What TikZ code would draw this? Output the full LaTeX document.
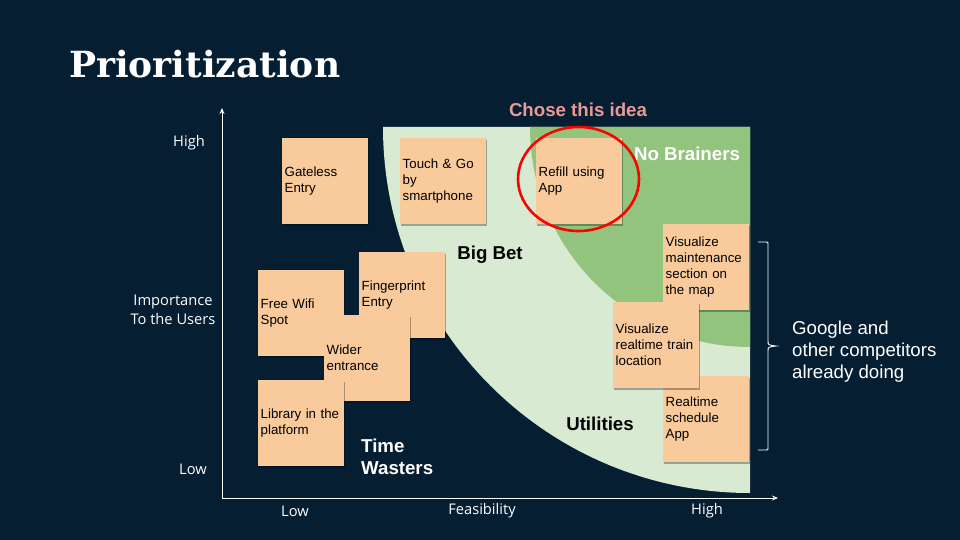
\documentclass[tikz,border=0pt]{standalone}
\usepackage{fontspec}
\setmainfont{Liberation Sans}
\newfontfamily\titlefont{DejaVu Serif}
\newfontfamily\axisfont{Open Sans}
\usetikzlibrary{arrows.meta,shadows}

\definecolor{navy}{HTML}{051E31}
\definecolor{peach}{HTML}{F9CB9C}
\definecolor{palegreen}{HTML}{D9EAD3}
\definecolor{leafgreen}{HTML}{93C47D}
\definecolor{rosetext}{HTML}{EA9999}

\tikzset{
  note/.style={fill=peach, anchor=north west, minimum width=86pt, minimum height=86pt,
    text width=81pt, inner xsep=2.5pt, inner ysep=0pt, align=left, text=black,
    font=\fontsize{13.3}{16}\selectfont,
    drop shadow={shadow xshift=1pt, shadow yshift=-2pt, opacity=0.3, fill=black}},
  axislabel/.style={text=white, inner sep=0pt, align=center,
    font=\axisfont\fontsize{14.67}{19}\selectfont},
  zonelabel/.style={inner sep=0pt, align=left,
    font=\bfseries\fontsize{18.67}{22}\selectfont},
  axisline/.style={draw=white, line width=0.9pt, -{Stealth[length=6pt,width=5pt]}},
}

\begin{document}
\begin{tikzpicture}[x=1pt,y=-1pt]
  % canvas
  \fill[navy] (0,0) rectangle (960,540);
  \useasboundingbox (0,0) rectangle (960,540);

  % title
  \node[anchor=base west, inner sep=0pt, text=white,
        font=\titlefont\bfseries\fontsize{36}{40}\selectfont] (title) at (69,78) {Prioritization};

  % quadrant regions
  \fill[palegreen] (383,127) -- (750,127) -- (750,493)
     .. controls (547.3,493) and (383,329) .. (383,127) -- cycle;
  \fill[leafgreen] (530,127) -- (750,127) -- (750,347)
     .. controls (628.5,347) and (530,248.5) .. (530,127) -- cycle;

  % axes
  \coordinate (origin) at (222,498);
  \coordinate (ytip) at (222,108);
  \coordinate (xtip) at (778,498);
  \draw[axisline] (origin) -- (ytip);
  \draw[axisline] (origin) -- (xtip);

  % axis labels
  \node[axislabel] (yhigh) at (189,143) {High};
  \node[axislabel] (ytitle) at (173,310) {Importance\\To the Users};
  \node[axislabel] (ylow) at (193,469) {Low};
  \node[axislabel] (xlow) at (295,511) {Low};
  \node[axislabel] (xtitle) at (482,511) {Feasibility};
  \node[axislabel] (xhigh) at (707,511) {High};

  % zone labels
  \node[zonelabel, text=rosetext] (chose) at (578,110) {Chose this idea};
  \node[zonelabel, text=white] (nobrain) at (687,154) {No Brainers};
  \node[zonelabel, text=black] (bigbet) at (490,255) {Big Bet};
  \node[zonelabel, text=black] (utilities) at (600,424) {Utilities};
  \node[zonelabel, text=white, anchor=west] (wasters) at (361,457) {Time\\Wasters};

  % sticky notes
  \node[note] (gateless) at (282,138) {Gateless\\Entry};
  \node[note] (touchgo) at (400,138) {Touch \& Go\\by\\smartphone};
  \node[note] (refill) at (536,138) {Refill using\\App};
  \node[note] (wifi) at (258,270) {Free Wifi\\Spot};
  \node[note] (finger) at (359,252) {Fingerprint\\Entry};
  \node[note] (wider) at (324,315) {Wider\\entrance};
  \node[note] (library) at (258,380) {Library in the\\platform};
  \node[note] (maint) at (663,224) {Visualize\\maintenance\\section on\\the map};
  \node[note] (schedule) at (663,376) {Realtime\\schedule\\App};
  \node[note] (trainloc) at (613,302) {Visualize\\realtime train\\location};

  % highlight ring around the chosen idea
  \draw[red, line width=2.6pt] (578.5,179) ellipse [x radius=60.5, y radius=52];

  % bracket grouping the competitor features
  \draw[white, line width=0.9pt] (758,242) -- (766,242) .. controls (768,242) .. (768,244)
     -- (768,341) .. controls (768,345) .. (776,346)
     .. controls (768,347) .. (768,351) -- (768,448)
     .. controls (768,450) .. (766,450) -- (758,450);
  \coordinate (bracetip) at (776,346);
  \node[anchor=west, inner sep=0pt, align=left, text=white,
        font=\fontsize{18.67}{22}\selectfont] (competitors) at (792,352)
        {Google and\\other competitors\\already doing};
\end{tikzpicture}
\end{document}
